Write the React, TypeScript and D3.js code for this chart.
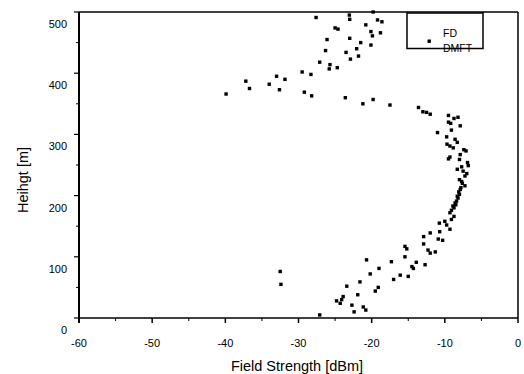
import React from "react";
import * as d3 from "d3";

const xTicks = [-60, -50, -40, -30, -20, -10, 0];
const yTicks = [0, 100, 200, 300, 400, 500];
const legendLabels = ["FD", "DMFT"];

const fieldStrength = [
  -27.6, -23.05, -23.0, -19.8, -19.2, -18.6, -20.8, -25.0, -24.6, -20.1, -18.8, -19.9, -26.1, -23.0,
  -21.5, -20.1, -22.05, -26.3, -23.5, -21.8, -22.9, -27.1, -25.7, -24.7, -25.8, -29.5, -28.3, -33.0,
  -31.85, -37.2, -34.0, -36.7, -32.6, -29.2, -39.9, -28.2, -23.6, -19.8, -21.2, -17.5,
  -13.6, -13.0, -12.5, -12.0, -9.5, -8.75, -8.2, -9.5, -9.2, -7.9, -9.1, -11.0, -9.75, -8.6, -8.3,
  -9.7, -9.3, -8.85, -7.4, -7.1, -7.9, -9.3, -9.5, -8.0, -6.9, -6.8, -7.7, -8.3, -7.5, -7.0, -7.25,
  -8.0, -7.7, -7.6, -7.25, -7.8, -7.9, -8.1, -8.0, -8.3, -8.2, -8.4, -8.5, -8.6, -8.9, -8.75, -9.1,
  -9.3, -8.75, -9.1, -10.0, -10.75, -9.75, -9.3, -10.7, -12.0, -12.9, -10.9, -10.3, -12.9, -15.45,
  -15.2, -12.3, -11.3, -12.0, -15.45, -20.7, -17.3, -13.9, -12.7, -14.5, -14.3, -19.0, -20.2, -16.1,
  -15.0, -17.0, -23.4, -21.6, -19.1, -19.5, -21.9, -23.9, -24.1, -24.8, -24.3, -22.7, -21.15, -20.8,
  -22.4, -27.1, -32.5, -32.4,
];
const height = [
  491, 495, 488, 500, 487, 484, 479, 474, 472, 468, 466, 461, 455, 457,
  450, 446, 440, 437, 434, 428, 423, 418, 414, 409, 407, 402, 398, 395,
  390, 387, 382, 375, 373, 369, 366, 363, 360, 357, 350, 348,
  344, 337, 336, 333, 331, 326, 328, 320, 318, 314, 307, 303, 296, 292, 287,
  284, 281, 278, 275, 273, 267, 263, 260, 259, 254, 249, 247, 243, 240, 236, 232,
  226, 223, 220, 216, 213, 210, 206, 202, 199, 196, 191, 185, 188, 183, 180, 176,
  172, 166, 161, 158, 155, 152, 145, 141, 139, 133, 129, 127, 121, 117,
  113, 111, 108, 106, 100, 95, 92, 91, 87, 84, 81, 81, 72, 70,
  68, 63, 52, 59, 50, 44, 38, 35, 30, 28, 24, 21, 18, 13,
  10, 5, 76, 55,
];

export default function App() {
  const W = 524, H = 374;
  const x = d3.scaleLinear().domain([-60, 0]).range([79, 518]);
  const y = d3.scaleLinear().domain([0, 500]).range([318, 12]);
  const minorX = d3.range(-55, 0, 10);
  const minorY = d3.range(50, 500, 100);
  const font = "Arial, 'Liberation Sans', sans-serif";
  const pts = fieldStrength.map((v, i) => [v, height[i]]);
  return (
    <svg width={W} height={H} style={{ position: "absolute", left: 0, top: 0, background: "#fff" }}>
      <rect x={0} y={0} width={W} height={H} fill="#fff" />
      {/* frame */}
      <line x1={x(-60)} y1={y(500)} x2={x(0)} y2={y(500)} stroke="#000" strokeWidth={1.5} />
      <line x1={x(0)} y1={y(500)} x2={x(0)} y2={y(0)} stroke="#000" strokeWidth={1.5} />
      <line x1={x(-60)} y1={y(0)} x2={x(0)} y2={y(0)} stroke="#000" strokeWidth={1.5} />
      <line x1={x(-60)} y1={y(500)} x2={x(-60)} y2={y(0) + 5} stroke="#000" strokeWidth={2} />
      {/* x ticks */}
      {xTicks.map((t) => (
        <g key={"xt" + t}>
          <line x1={x(t)} x2={x(t)} y1={y(0)} y2={y(0) + 5} stroke="#000" strokeWidth={1.5} />
          <text x={x(t)} y={347} textAnchor="middle" fontFamily={font} fontSize={11} fill="#000">
            {t}
          </text>
        </g>
      ))}
      {minorX.map((t) => (
        <line key={"xm" + t} x1={x(t)} x2={x(t)} y1={y(0)} y2={y(0) + 3} stroke="#000" strokeWidth={1} />
      ))}
      {/* y ticks */}
      {yTicks.map((t) => (
        <g key={"yt" + t}>
          <line x1={x(-60) - 5} x2={x(-60)} y1={y(t)} y2={y(t)} stroke="#000" strokeWidth={1.2} />
          <text x={67} y={y(t) + 16} textAnchor="end" fontFamily={font} fontSize={11} fill="#000">
            {t}
          </text>
        </g>
      ))}
      {minorY.map((t) => (
        <line key={"ym" + t} x1={x(-60) - 3} x2={x(-60)} y1={y(t)} y2={y(t)} stroke="#000" strokeWidth={1} />
      ))}
      {/* axis titles */}
      <text x={297} y={371} textAnchor="middle" fontFamily={font} fontSize={14.5} fill="#000">
        Field Strength [dBm]
      </text>
      <text
        transform="translate(28,180) rotate(-90)"
        textAnchor="middle"
        fontFamily={font}
        fontSize={14.5}
        fill="#000"
      >
        Heihgt [m]
      </text>
      {/* points */}
      {pts.map(([v, h], i) => (
        <rect key={"p" + i} x={x(v) - 1.7} y={y(h) - 1.7} width={3.4} height={3.4} fill="#000" />
      ))}
      {/* legend */}
      <text x={443} y={37} fontFamily={font} fontSize={10.5} fill="#000">
        {legendLabels[0]}
      </text>
      <text x={443} y={52} fontFamily={font} fontSize={10.5} fill="#000">
        {legendLabels[1]}
      </text>
      <rect x={427.5} y={39.5} width={3.4} height={3.4} fill="#000" />
      <rect x={407} y={13} width={76} height={35.5} fill="none" stroke="#000" strokeWidth={1.5} />
    </svg>
  );
}
